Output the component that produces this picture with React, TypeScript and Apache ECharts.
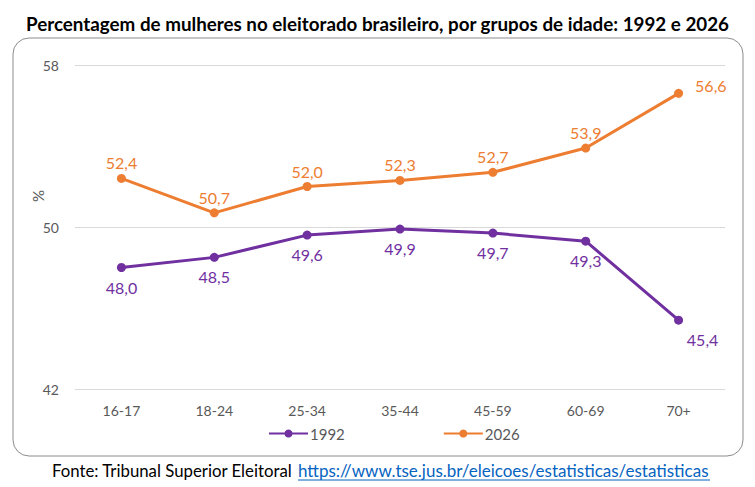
import React, { useEffect, useRef } from "react";
import * as echarts from "echarts";

const categories = ["16-17", "18-24", "25-34", "35-44", "45-59", "60-69", "70+"];
const values1992 = [48.0, 48.5, 49.6, 49.9, 49.7, 49.3, 45.4];
const values2026 = [52.4, 50.7, 52.0, 52.3, 52.7, 53.9, 56.6];
const yTicks = { min: 42, max: 58, interval: 8 };
const titleText = "Percentagem de mulheres no eleitorado brasileiro, por grupos de idade: 1992 e 2026";
const sourceLabel = "Fonte: Tribunal Superior Eleitoral ";
const sourceUrl = "https://www.tse.jus.br/eleicoes/estatisticas/estatisticas";

const FONT = "Lato, 'Open Sans', sans-serif";
const fmt = (v: number) => v.toFixed(1).replace(".", ",");

export default function App() {
  const ref = useRef<HTMLDivElement>(null);
  useEffect(() => {
    document.body.style.margin = "0";
    const chart = echarts.init(ref.current!, null, { renderer: "svg" });
    const last = categories.length - 1;
    const data1992 = values1992.map((v, i) =>
      i === last ? { value: v, label: { offset: [24, 0] } } : v
    );
    const data2026 = values2026.map((v, i) =>
      i === last
        ? { value: v, label: { position: "right", distance: 12, offset: [0, -8] } }
        : v
    );
    chart.setOption({
      animation: false,
      backgroundColor: "#ffffff",
      textStyle: { fontFamily: FONT },
      title: {
        text: titleText,
        left: "center",
        top: 9,
        textStyle: { fontFamily: FONT, fontWeight: "bold", fontSize: 18.8, color: "#000000" },
      },
      grid: { left: 75, right: 30, top: 65, bottom: 98, containLabel: false },
      legend: {
        top: 426,
        left: 268,
        padding: 0,
        itemWidth: 39,
        itemHeight: 10,
        itemGap: 98,
        textStyle: { fontFamily: FONT, fontSize: 15, color: "#595959", padding: [0, 0, 0, -3] },
        data: ["1992", "2026"],
      },
      xAxis: {
        type: "category",
        data: categories,
        boundaryGap: true,
        axisLine: { show: false },
        axisTick: { show: false },
        axisLabel: { color: "#595959", fontSize: 14, fontFamily: FONT, margin: 14 },
      },
      yAxis: {
        type: "value",
        min: yTicks.min,
        max: yTicks.max,
        interval: yTicks.interval,
        axisLine: { show: false },
        axisTick: { show: false },
        axisLabel: { color: "#595959", fontSize: 14, fontFamily: FONT, margin: 16 },
        splitLine: { lineStyle: { color: "#d9d9d9", width: 1 } },
      },
      series: [
        {
          name: "1992",
          type: "line",
          data: data1992,
          color: "#7030A0",
          symbol: "circle",
          symbolSize: 9,
          lineStyle: { width: 3, color: "#7030A0" },
          itemStyle: { color: "#7030A0" },
          label: {
            show: true,
            position: "bottom",
            distance: 7,
            color: "#7030A0",
            fontSize: 16,
            fontFamily: FONT,
            formatter: (p: any) => fmt(p.value),
          },
        },
        {
          name: "2026",
          type: "line",
          data: data2026,
          color: "#ED7D31",
          symbol: "circle",
          symbolSize: 9,
          lineStyle: { width: 3, color: "#ED7D31" },
          itemStyle: { color: "#ED7D31" },
          label: {
            show: true,
            position: "top",
            distance: 3,
            color: "#ED7D31",
            fontSize: 16,
            fontFamily: FONT,
            formatter: (p: any) => fmt(p.value),
          },
        },
      ],
      graphic: [
        {
          type: "rect",
          shape: { x: 13, y: 38, width: 730, height: 418, r: 16 },
          style: { fill: "none", stroke: "#8c8c8c", lineWidth: 1 },
          silent: true,
          z: -1,
        },
        {
          type: "text",
          x: 38,
          y: 196,
          rotation: Math.PI / 2,
          style: {
            text: "%",
            fill: "#595959",
            fontSize: 15,
            fontFamily: FONT,
            align: "center",
            verticalAlign: "middle",
          },
        },
        {
          type: "text",
          x: 296,
          y: 470,
          style: {
            text: sourceLabel,
            fill: "#000000",
            fontSize: 16.8,
            fontFamily: FONT,
            align: "right",
            verticalAlign: "middle",
          },
        },
        {
          type: "text",
          x: 298,
          y: 470,
          style: {
            text: sourceUrl,
            fill: "#0563C1",
            fontSize: 17,
            fontFamily: FONT,
            align: "left",
            verticalAlign: "middle",
          },
        },
        {
          type: "line",
          shape: { x1: 298, y1: 480, x2: 710, y2: 480 },
          style: { stroke: "#0563C1", lineWidth: 1 },
        },
      ],
    });
    return () => chart.dispose();
  }, []);
  return <div ref={ref} style={{ width: 755, height: 487 }} />;
}
